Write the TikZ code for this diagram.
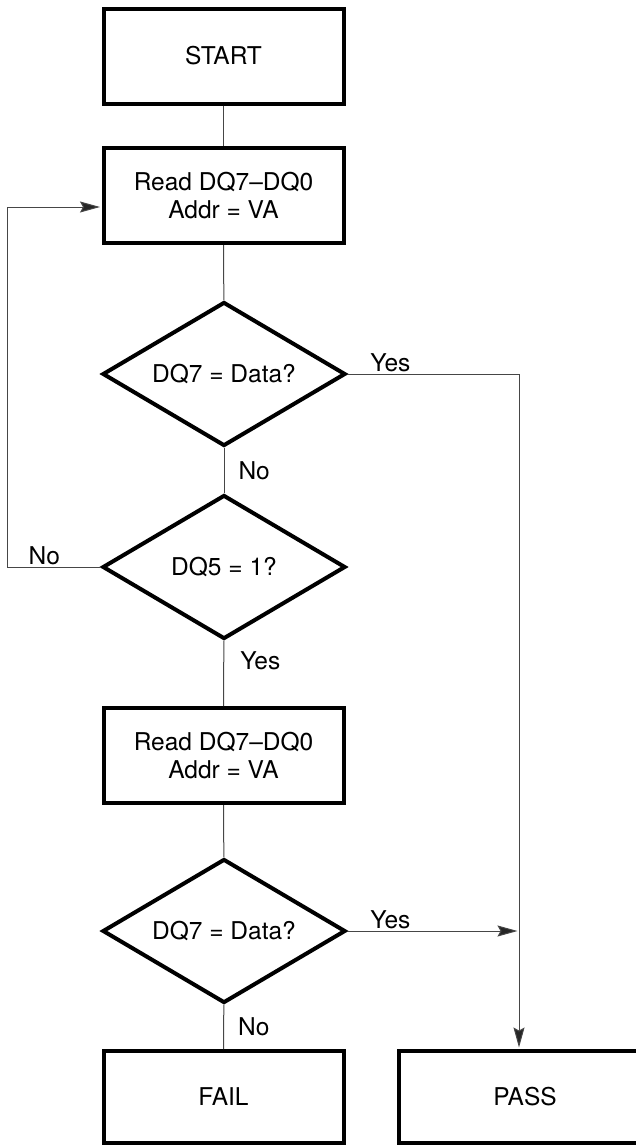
\documentclass[tikz,border=0pt]{standalone}
\usepackage{fontspec}
\setmainfont{TeX Gyre Heros}
\usetikzlibrary{shapes.geometric,arrows.meta}
\definecolor{linegray}{RGB}{70,70,70}
\newcommand{\chartfont}{\fontsize{24.5}{28}\selectfont}

\begin{document}
\begin{tikzpicture}[x=1pt, y=-1pt]
    \useasboundingbox (0, 0) rectangle (635, 1146);
    \tikzset{StepBox/.style={rectangle, draw=black, line width=4pt, inner sep=0pt, minimum width=240pt, minimum height=95pt, align=center, font=\chartfont}}
    \tikzset{Decision/.style={diamond, aspect=1.69, draw=black, line width=4pt, inner sep=0pt, minimum width=243pt, minimum height=144pt, font=\chartfont}}
    \tikzset{Connection/.style={draw=linegray, line width=1pt}}
    \tikzset{Arrow/.style={Connection, -{Stealth[length=20pt, width=11pt, inset=3pt, fill=black!85]}, shorten >=1.5pt}}
    \tikzset{Answer/.style={font=\chartfont, inner sep=2pt}}
    \node[StepBox] (start) at (223.5, 56) {START}; % start
    \node[StepBox] (read-1) at (223.5, 195.5) {Read DQ7--DQ0\\Addr = VA}; % first read
    \node[Decision] (dec-1) at (224, 374) {DQ7 = Data?}; % first poll
    \node[Decision] (dec-2) at (224, 567) {DQ5 = 1?}; % timeout
    \node[StepBox] (read-2) at (223.5, 755.5) {Read DQ7--DQ0\\Addr = VA}; % second read
    \node[Decision] (dec-3) at (224, 931) {DQ7 = Data?}; % second poll
    \node[StepBox, minimum height=92pt] (fail) at (223.5, 1097) {FAIL}; % fail
    \node[StepBox, minimum height=92pt, minimum width=252pt] (pass) at (525, 1097) {PASS}; % pass
    \coordinate (loop-corner) at (7, 567);
    \coordinate (read-1-in) at ([yshift=-11.5pt]read-1.west);
    \coordinate (pass-in) at ([xshift=-6pt]pass.north);

    \draw[Connection] (start) -- (read-1);
    \draw[Connection] (read-1) -- (dec-1);
    \draw[Connection] (dec-1) -- node [Answer, right, xshift=12pt] {No} (dec-2);
    \draw[Connection] (dec-2) -- node [Answer, right, xshift=14pt, pos=0.3] {Yes} (read-2);
    \draw[Connection] (read-2) -- (dec-3);
    \draw[Connection] (dec-3) -- node [Answer, right, xshift=12pt] {No} (fail);
    \draw[Arrow] (dec-2.west) -- node [Answer, above, pos=0.6] {No} (loop-corner) |- (read-1-in);
    \draw[Arrow] (dec-1.east) -- node [Answer, above, pos=0.25] {Yes} (dec-1.east -| pass-in) -- (pass-in);
    \draw[Arrow] (dec-3.east) -- node [Answer, above, pos=0.25] {Yes} (dec-3.east -| pass-in);
\end{tikzpicture}
\end{document}
